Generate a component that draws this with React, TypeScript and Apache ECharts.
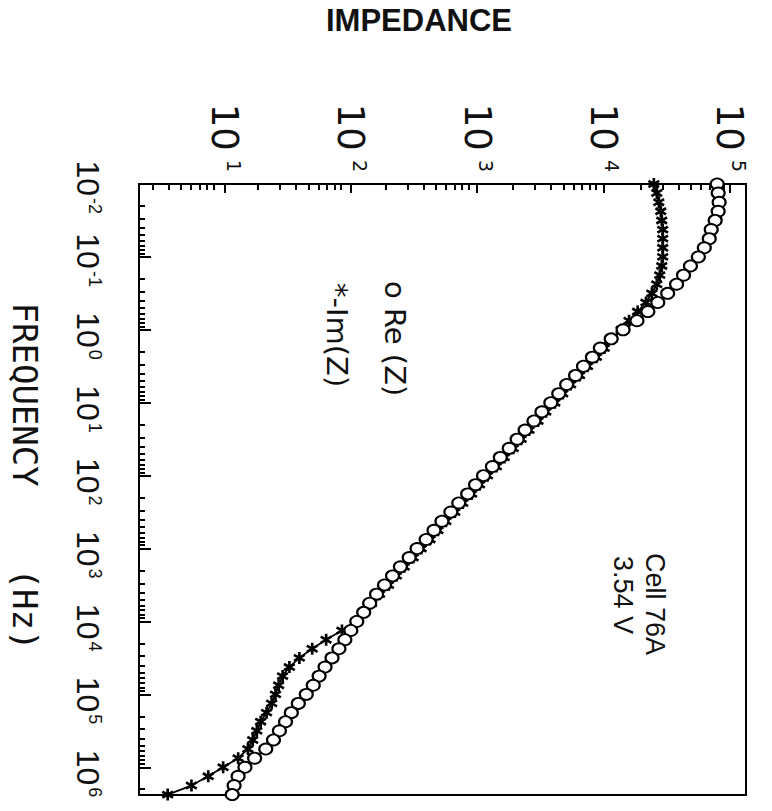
import React, { useEffect, useRef } from 'react';
import * as echarts from 'echarts';

// Frequency (Hz) of each measured point
const FREQ_HZ = [
  0.01, 0.0133, 0.0178, 0.0237, 0.0316, 0.0422, 0.0562, 0.075,
  0.1, 0.133, 0.178, 0.237, 0.316, 0.422, 0.562, 0.75,
  1, 1.33, 1.78, 2.37, 3.16, 4.22, 5.62, 7.5,
  10, 13.3, 17.8, 23.7, 31.6, 42.2, 56.2, 75,
  100, 133, 178, 237, 316, 422, 562, 750,
  1000, 1330, 1780, 2370, 3160, 4220, 5620, 7500,
  10000, 13300, 17800, 23700, 31600, 42200, 56200, 75000,
  100000, 133000, 178000, 237000, 316000, 422000, 562000, 750000,
  1000000, 1330000, 1780000, 2370000,
];

// Re(Z) (circles)
const RE_Z = [
  79800, 81250, 82730, 81250, 76960, 71600, 69060, 63100,
  56620, 49010, 43190, 38060, 32350, 27010, 22540, 18480,
  14350, 11550, 9474, 8200, 6967, 6032, 5127, 4437,
  3840, 3264, 2825, 2402, 2078, 1798, 1529, 1323,
  1125, 973, 843, 716, 620, 527, 456, 395,
  335, 290, 247, 214, 185, 160, 141, 126.5,
  111.5, 100, 89.7, 80.5, 71, 62.5, 56.1, 50.4,
  44.4, 38.4, 33.8, 30.4, 27.2, 24.4, 21.2, 17.3,
  14.5, 12.8, 11.9, 11.5,
];

// -Im(Z) (asterisks)
const IM_Z = [
  25120, 26520, 27500, 28510, 29030, 29560, 29560, 29560,
  29560, 29030, 28000, 26520, 24230, 21750, 18690, 15990,
  13840, 11770, 10180, 8812, 7490, 6484, 5510, 4771,
  4128, 3508, 3037, 2581, 2234, 1934, 1643, 1422,
  1209, 1046, 906, 770, 666, 566, 490, 424,
  361, 312, 265, 229.5, 198.7, 168.8, 146.1, 126.5,
  109.4, 85, 63.7, 49.4, 39.1, 32.6, 28.8, 26.8,
  25.3, 23.6, 21.5, 19.3, 18, 16.7, 15.3, 12.8,
  9.73, 7.42, 5.46, 3.54,
];

const IMPEDANCE_TICK_EXPONENTS = [1, 2, 3, 4, 5];
const FREQ_TICK_EXPONENTS = [-2, -1, 0, 1, 2, 3, 4, 5, 6];
const IMPEDANCE_RANGE = [2.1, 1.35e5];
const FREQ_RANGE = [0.01, 2.4e6];

const IMPEDANCE_TITLE = 'IMPEDANCE';
const FREQ_TITLE = 'FREQUENCY    (Hz)';
const LEGEND_RE = 'o Re (Z)';
const LEGEND_IM = '*-Im(Z)';
const NOTE_CELL = 'Cell 76A';
const NOTE_VOLT = '3.54 V';

const ASTERISK =
  'path://M3.9,0L6.1,0L6.1,10L3.9,10Z M1.1,1.5L9.9,6.6L8.8,8.5L0,3.4Z M0,6.6L8.8,1.5L9.9,3.4L1.1,8.5Z';

function minorTicks(lo: number, hi: number): number[] {
  const out: number[] = [];
  for (let e = Math.floor(lo); e <= Math.ceil(hi); e++) {
    for (let m = 2; m <= 9; m++) {
      const v = e + Math.log10(m);
      if (v > lo && v < hi) out.push(v);
    }
  }
  return out;
}

export default function App() {
  const ref = useRef<HTMLDivElement>(null);

  useEffect(() => {
    document.body.style.margin = '0';
    if (!ref.current) return;
    const chart = echarts.init(ref.current, undefined, { renderer: 'svg' });

    const xMin = Math.log10(IMPEDANCE_RANGE[0]);
    const xMax = Math.log10(IMPEDANCE_RANGE[1]);
    const yMin = Math.log10(FREQ_RANGE[0]);
    const yMax = Math.log10(FREQ_RANGE[1]);

    const reData = FREQ_HZ.map((f, i) => [Math.log10(RE_Z[i]), Math.log10(f)]);
    const imData = FREQ_HZ.map((f, i) => [Math.log10(IM_Z[i]), Math.log10(f)]);

    const black = '#000';
    const ink = '#111';
    const gridRect = { left: 133, top: 184, width: 613, height: 611 };

    chart.setOption({
      animation: false,
      backgroundColor: '#fff',
      title: {
        text: IMPEDANCE_TITLE,
        left: 326,
        top: 5,
        padding: 0,
        textStyle: { fontSize: 31, fontWeight: 'bold', fontFamily: 'Liberation Sans, Arial, sans-serif', color: ink },
      },
      grid: [
        { ...gridRect, show: true, borderColor: black, borderWidth: 2, backgroundColor: 'transparent' },
        { ...gridRect, show: false },
      ],
      xAxis: [
        {
          type: 'value',
          gridIndex: 0,
          position: 'top',
          min: xMin,
          max: xMax,
          axisLine: { show: true, onZero: false, lineStyle: { color: black, width: 2 } },
          axisTick: {
            show: true,
            inside: true,
            length: 9,
            lineStyle: { color: black, width: 2 },
            customValues: IMPEDANCE_TICK_EXPONENTS,
          },
          axisLabel: { show: false },
          splitLine: { show: false },
        },
        {
          type: 'value',
          gridIndex: 1,
          position: 'top',
          min: xMin,
          max: xMax,
          axisLine: { show: false, onZero: false },
          axisTick: {
            show: true,
            inside: true,
            length: 6,
            lineStyle: { color: black, width: 2 },
            customValues: minorTicks(xMin, xMax),
          },
          axisLabel: { show: false },
          splitLine: { show: false },
        },
      ],
      yAxis: [
        {
          type: 'value',
          gridIndex: 0,
          position: 'left',
          inverse: true,
          min: yMin,
          max: yMax,
          name: FREQ_TITLE,
          nameLocation: 'middle',
          nameRotate: -90,
          nameGap: 97,
          nameTextStyle: { fontSize: 34, fontFamily: 'DejaVu Sans Mono', color: ink, padding: [0, 26, 0, 0] },
          axisLine: { show: true, onZero: false, lineStyle: { color: black, width: 2 } },
          axisTick: {
            show: true,
            inside: true,
            length: 12,
            lineStyle: { color: black, width: 2 },
            customValues: FREQ_TICK_EXPONENTS,
          },
          axisLabel: { show: false },
          splitLine: { show: false },
        },
        {
          type: 'value',
          gridIndex: 0,
          position: 'left',
          inverse: true,
          min: yMin,
          max: yMax,
          axisLine: { show: false, onZero: false },
          axisTick: {
            show: true,
            inside: true,
            length: 6,
            lineStyle: { color: black, width: 2 },
            customValues: minorTicks(yMin, yMax),
          },
          axisLabel: { show: false },
          splitLine: { show: false },
        },
        {
          type: 'value',
          gridIndex: 1,
          show: false,
          inverse: true,
          min: yMin,
          max: yMax,
        },
      ],
      series: [
        {
          name: 'Re (Z)',
          type: 'line',
          xAxisIndex: 0,
          yAxisIndex: 0,
          data: reData,
          clip: false,
          symbol: 'emptyCircle',
          symbolSize: [13, 11],
          itemStyle: { color: black, borderColor: black, borderWidth: 2.2 },
          lineStyle: { color: black, width: 1.8 },
          z: 3,
        },
        {
          name: '-Im(Z)',
          type: 'line',
          xAxisIndex: 0,
          yAxisIndex: 0,
          data: imData,
          clip: false,
          symbol: ASTERISK,
          symbolSize: 12,
          itemStyle: { color: black },
          lineStyle: { color: black, width: 1.8 },
          z: 2,
        },
      ],
    });

    // Tick labels 10^n, turned a quarter clockwise like the rest of the figure,
    // placed at the pixel position the axis gives for each tick value.
    const rot = -Math.PI / 2;
    const labelStyle = (e: number, big: number, small: number, family: string, gap: number) => ({
      text: `{b|10}{e|${e}}`,
      align: 'right',
      verticalAlign: 'middle',
      fill: ink,
      rich: {
        b: { fontSize: big, fontFamily: family, fill: ink },
        e: { fontSize: small, fontFamily: family, fill: ink, verticalAlign: 'top', padding: [0, 0, 0, gap] },
      },
    });
    const topLabels = IMPEDANCE_TICK_EXPONENTS.map((e) => ({
      type: 'text',
      x: chart.convertToPixel({ xAxisIndex: 0 }, e) as number,
      y: 172,
      rotation: rot,
      silent: true,
      style: labelStyle(e, 37, 19, 'DejaVu Sans', 9),
    }));
    const leftLabels = FREQ_TICK_EXPONENTS.map((e) => ({
      type: 'text',
      x: 88,
      y: (chart.convertToPixel({ yAxisIndex: 0 }, e) as number) + 30,
      rotation: rot,
      silent: true,
      style: labelStyle(e, 32, 18, 'Liberation Sans', 2),
    }));

    const notes = [
      { text: LEGEND_RE, x: 409, y: 281, size: 29, family: 'DejaVu Sans' },
      { text: LEGEND_IM, x: 351, y: 283, size: 29, family: 'DejaVu Sans' },
      { text: NOTE_CELL, x: 668, y: 553, size: 27, family: 'Liberation Sans' },
      { text: NOTE_VOLT, x: 636, y: 556, size: 27, family: 'Liberation Sans' },
    ].map((n) => ({
      type: 'text',
      x: n.x,
      y: n.y,
      rotation: rot,
      silent: true,
      style: { text: n.text, fontSize: n.size, fontFamily: n.family, fill: ink },
    }));

    chart.setOption({ graphic: [...topLabels, ...leftLabels, ...notes] });

    return () => chart.dispose();
  }, []);

  return <div ref={ref} style={{ width: 772, height: 811 }} />;
}
